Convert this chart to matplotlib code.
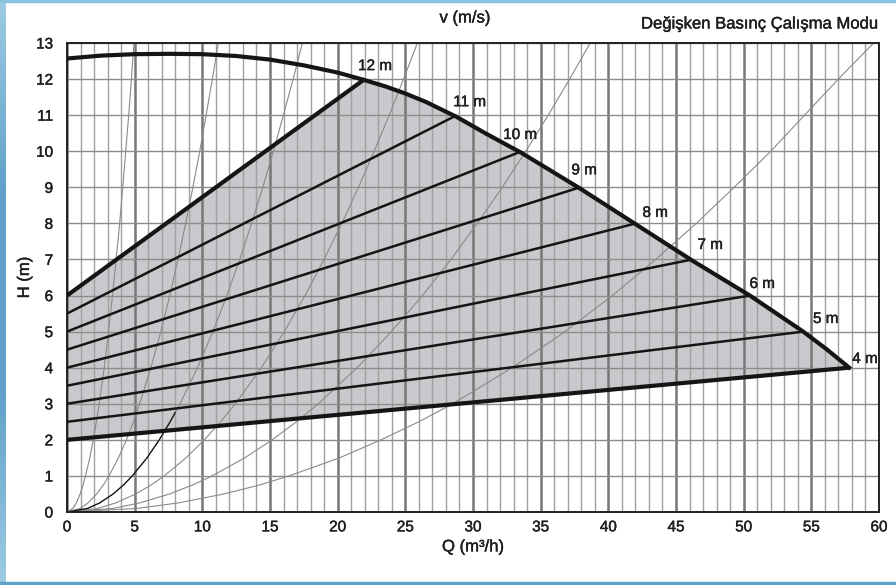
import matplotlib
matplotlib.use('Agg')
import matplotlib.pyplot as plt
import matplotlib.patheffects as pe
import numpy as np
from matplotlib.patches import Polygon, Rectangle
from matplotlib.colors import LinearSegmentedColormap

plt.rcParams['font.family'] = ['Liberation Sans', 'DejaVu Sans']

# maksimum pompa eğrisi (Q, H)
max_q = [0, 2.5, 5, 7.5, 10, 12.5, 15, 17.5, 20, 22, 23.5, 25, 26.5, 28.8, 31, 33.6,
         35.8, 37.9, 42.05, 46.2, 50.5, 54.4, 56.1, 57.8]
max_h = [12.57, 12.65, 12.69, 12.70, 12.69, 12.64, 12.54, 12.38, 12.18, 11.97,
         11.8, 11.6, 11.37, 10.95, 10.48, 9.95, 9.45, 8.97, 7.97, 6.97, 5.99, 5.0,
         4.52, 4.0]

# değişken basınç çizgileri
line_names = ['12 m', '11 m', '10 m', '9 m', '8 m', '7 m', '6 m', '5 m', '4 m']
line_start_h = [6, 5.5, 5, 4.5, 4, 3.5, 3, 2.5, 2]
line_end_q = [22, 28.8, 33.6, 37.9, 42.05, 46.2, 50.5, 54.4, 57.8]
line_end_h = [12, 11, 10, 9, 8, 7, 6, 5, 4]
label_q = [22.76, 29.75, 33.48, 38.21, 43.46, 47.52, 51.37, 56.06, 58.96]
label_h = [12.36, 11.36, 10.45, 9.47, 8.29, 7.40, 6.32, 5.35, 4.24]

# tesisat eğrileri: her H seviyesi için okunan Q değerleri
sys_h = [0, 0.1, 0.25, 0.5, 0.75, 1, 1.5, 2, 2.5, 3, 4, 5, 6, 7, 8, 9, 10, 11, 12, 13]
sys_q = [
    [0, 0.43, 0.69, 0.97, 1.19, 1.37, 1.68, 1.94, 2.17, 2.38, 2.75, 3.07, 3.36, 3.63,
     3.89, 4.12, 4.34, 4.56, 4.76, 4.95],
    [0, 0.98, 1.55, 2.19, 2.69, 3.10, 3.80, 4.39, 4.90, 5.37, 6.20, 6.93, 7.60, 8.20,
     8.77, 9.30, 9.81, 10.28, 10.74, 11.18],
    [0, 1.53, 2.41, 3.41, 4.18, 4.82, 5.91, 6.82, 7.62, 8.35, 9.64, 10.78, 11.81, 12.76,
     13.64, 14.47, 15.25, 15.99, 16.71, 17.39],
    [0, 2.27, 3.59, 5.08, 6.22, 7.18, 8.79, 10.15, 11.35, 12.44, 14.36, 16.05, 17.59,
     18.99, 20.31, 21.54, 22.70, 23.81, 24.87, 25.89],
    [0, 3.39, 5.36, 7.58, 9.29, 10.72, 13.13, 15.16, 16.95, 18.57, 21.44, 23.97, 26.26,
     28.37, 30.32, 32.16, 33.90, 35.56, 37.14, 38.66],
    [0, 5.2, 8.2, 11.6, 14.24, 16.4, 20.13, 23.2, 25.99, 28.5, 32.9, 36.8, 40.3, 43.5,
     46.5, 49.3, 52.0, 54.5, 57.0, 59.6],
]
black_curve = 2
black_until_q = 8.0

txt_color = '#1e1e1e'
bold_fx = [pe.withStroke(linewidth=0.3, foreground=txt_color)]

fig = plt.figure(figsize=(8.96, 5.85), dpi=100)

# mavi çerçeve
grad = LinearSegmentedColormap.from_list('b', ['#9ccbe3', '#5f9fc9', '#5f9fc9', '#9ccbe3'])
bax = fig.add_axes([0, 0, 6 / 896, 1])
bax.imshow(np.linspace(0, 1, 100).reshape(-1, 1), cmap=grad, aspect='auto')
bax.axis('off')
fig.patches.append(Rectangle((0, 1 - 2 / 585), 1, 2 / 585, transform=fig.transFigure,
                             color='#8cc3e0', zorder=0))
fig.patches.append(Rectangle((0, 0), 1, 3 / 585, transform=fig.transFigure,
                             color='#5ea2cb', zorder=0))

ax = fig.add_axes([67 / 896, 73 / 585, 812 / 896, 469 / 585])
ax.set_xlim(0, 60)
ax.set_ylim(0, 13)

# gri alan
upper = [(q, h) for q, h in zip(max_q, max_h) if q >= line_end_q[0]]
poly = [(0, line_start_h[-1]), (line_end_q[-1], line_end_h[-1])] + upper[::-1] + \
       [(0, line_start_h[0])]
ax.add_patch(Polygon(poly, closed=True, facecolor='#c8c9cc', edgecolor='none', zorder=1))

# ızgara
ax.set_xticks(range(0, 61, 5))
ax.set_xticks(range(0, 61, 1), minor=True)
ax.set_yticks(range(0, 14, 1))
ax.set_axisbelow('line')
ax.grid(which='minor', axis='x', color='#a0a0a0', lw=1.0)
ax.grid(which='major', axis='x', color='#777777', lw=1.8)
ax.grid(which='major', axis='y', color='#8c8c8c', lw=1.0)
ax.tick_params(which='both', length=0)
ax.tick_params(axis='x', labelsize=11, pad=6, colors=txt_color)
ax.tick_params(axis='y', labelsize=11, pad=10, colors=txt_color)
for lab in ax.get_xticklabels() + ax.get_yticklabels():
    lab.set_path_effects(bold_fx)
for s in ax.spines.values():
    s.set_color('#222222')
    s.set_linewidth(1.4)

# tesisat eğrileri
for i, qs in enumerate(sys_q):
    ax.plot(qs, sys_h, color='#8a8a8a', lw=0.8, zorder=2)
    if i == black_curve:
        qb = [q for q in qs if q <= black_until_q] + [black_until_q]
        hb = list(np.interp(qb, qs, sys_h))
        ax.plot(qb, hb, color='#111111', lw=0.9, zorder=2.1)

# değişken basınç çizgileri
for i, name in enumerate(line_names):
    thick = i == 0 or i == len(line_names) - 1
    ax.plot([0, line_end_q[i]], [line_start_h[i], line_end_h[i]], color='#151515',
            lw=3.0 if thick else 1.8, zorder=3, solid_capstyle='butt')
    ax.text(label_q[i], label_h[i], name, fontsize=11, ha='center', va='center',
            color=txt_color, zorder=5, path_effects=bold_fx)

ax.plot(max_q, max_h, color='#151515', lw=3.0, zorder=4, solid_joinstyle='round')

ax.set_xlabel('Q (m³/h)', fontsize=12, labelpad=3, color=txt_color, path_effects=bold_fx)
ax.set_ylabel('H (m)', fontsize=12, labelpad=3, color=txt_color, path_effects=bold_fx)
fig.text(465 / 896, 1 - 18 / 585, 'v (m/s)', fontsize=12, ha='center', va='center',
         color=txt_color, path_effects=bold_fx)
fig.text(879 / 896, 1 - 24 / 585, 'Değişken Basınç Çalışma Modu', fontsize=12,
         ha='right', va='center', color=txt_color, path_effects=bold_fx)

fig.savefig('out.png', dpi=100)
